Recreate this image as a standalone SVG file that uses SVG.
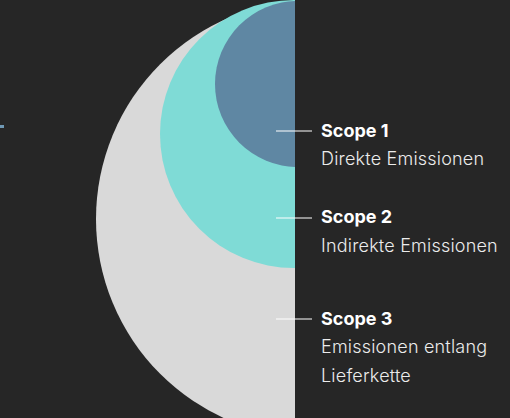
<svg xmlns="http://www.w3.org/2000/svg" width="510" height="418" viewBox="0 0 510 418">
  <style>
    .title { font-family: Inter, "Liberation Sans", sans-serif; font-weight: 700; font-size: 18px; fill: #ffffff; }
    .desc { font-family: Inter, "Liberation Sans", sans-serif; font-weight: 300; font-size: 18px; letter-spacing: 0.2px; fill: #ececec; }
    .lead { stroke: #ffffff; stroke-width: 1.2; }
  </style>
  <defs>
    <clipPath id="half">
      <rect x="0" y="0" width="295" height="418"/>
    </clipPath>
  </defs>
  <rect x="0" y="0" width="510" height="418" fill="#262626"/>
  <rect x="0" y="125" width="4" height="3" fill="#6f98b4"/>
  <g id="scope3">
    <circle cx="315" cy="219" r="219" fill="#d9d9d9" clip-path="url(#half)"/>
    <text class="title" x="321" y="325">Scope 3</text>
    <text class="desc" x="321" y="353">Emissionen entlang</text>
    <text class="desc" x="321" y="382">Lieferkette</text>
  </g>
  <g id="scope2">
    <circle cx="294" cy="134" r="134" fill="#7fdbd6" clip-path="url(#half)"/>
    <text class="title" x="321" y="223">Scope 2</text>
    <text class="desc" x="321" y="252">Indirekte Emissionen</text>
  </g>
  <g id="scope1">
    <circle cx="298" cy="84" r="83" fill="#5f87a3" clip-path="url(#half)"/>
    <text class="title" x="321" y="137">Scope 1</text>
    <text class="desc" x="321" y="165">Direkte Emissionen</text>
  </g>
  <g id="connectors">
    <line class="lead" x1="276" y1="131" x2="312" y2="131"/>
    <line class="lead" x1="276" y1="218" x2="312" y2="218"/>
    <line class="lead" x1="276" y1="319" x2="312" y2="319"/>
  </g>
</svg>
